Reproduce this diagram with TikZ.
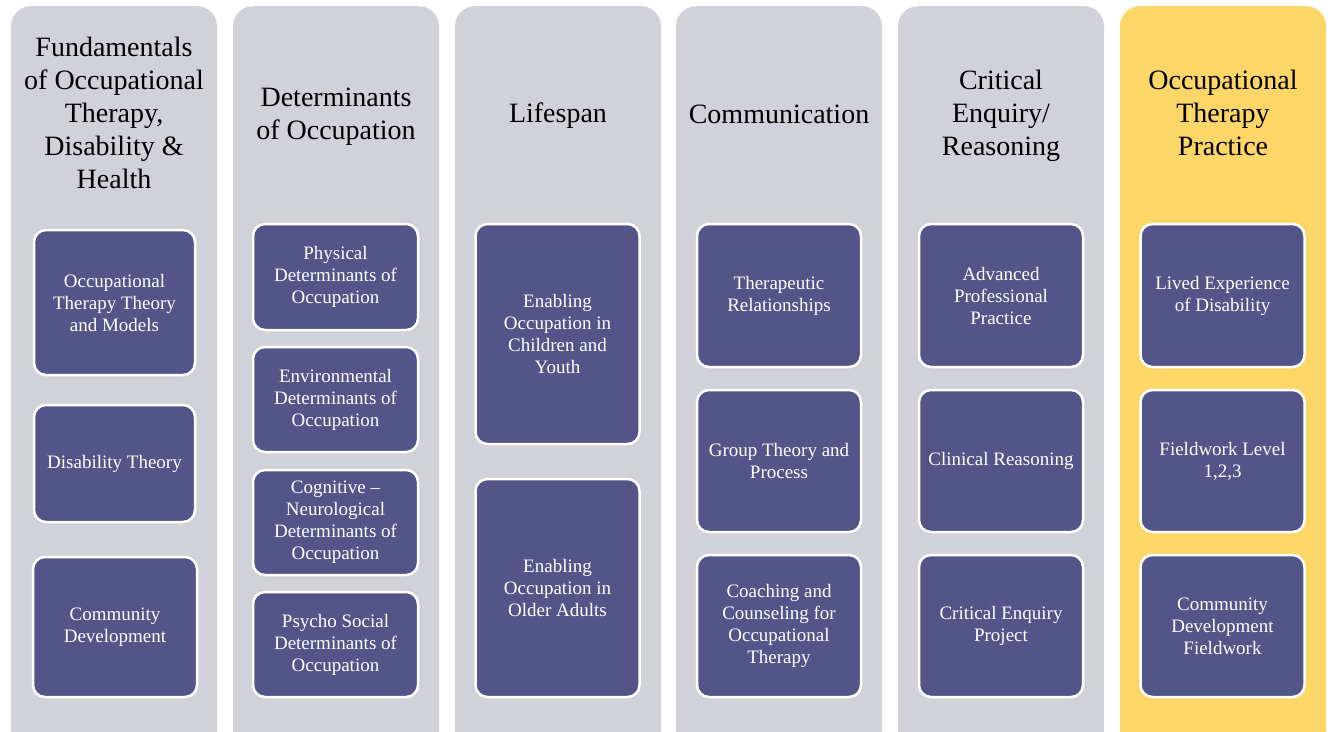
\documentclass[tikz,border=0pt]{standalone}
\usepackage{fontspec}
\setmainfont{Liberation Serif}
\usetikzlibrary{positioning}
\definecolor{colgrey}{RGB}{209, 209, 217}
\definecolor{colyellow}{RGB}{253, 214, 104}
\definecolor{itemcolor}{RGB}{83, 84, 136}
\tikzstyle{column} = [rectangle, rounded corners=20pt, minimum width=206pt, minimum height=760pt, anchor=north, fill=colgrey]
\tikzstyle{heading} = [align=center, text=black, font=\fontsize{28}{33}\selectfont]
\tikzstyle{item} = [rectangle, rounded corners=12pt, minimum width=164pt, align=center, draw=white, line width=2.5pt, fill=itemcolor, text=white, font=\fontsize{19}{22}\selectfont]

\begin{document}
\begin{tikzpicture}[x=1pt, y=-1pt]

\fill[white] (0,0) rectangle (1335,731);
\useasboundingbox (0,0) rectangle (1335,731);
\clip (0,0) rectangle (1335,731);

% Colonnes
\node (col1) [column] at (114,6) {};
\node (col2) [column] at (336,6) {};
\node (col3) [column] at (558,6) {};
\node (col4) [column] at (779,6) {};
\node (col5) [column] at (1001,6) {};
\node (col6) [column, fill=colyellow] at (1223,6) {};

% Titres
\node (head1) [heading] at (114,113) {Fundamentals\\of Occupational\\Therapy,\\Disability \&\\Health};
\node (head2) [heading] at (336,117) {Determinants\\of Occupation};
\node (head3) [heading] at (558,116) {Lifespan};
\node (head4) [heading] at (779,114) {Communication};
\node (head5) [heading] at (1001,116) {Critical\\Enquiry/\\Reasoning};
\node (head6) [heading] at (1223,113) {Occupational\\Therapy\\Practice};

% Fundamentals
\node (otmodels) [item, minimum width=161pt, minimum height=145pt] at (114.5,302.5) {Occupational\\Therapy Theory\\and Models};
\node (disability) [item, minimum width=161pt, minimum height=117pt] at (114.5,463.5) {Disability Theory};
\node (community) [item, minimum height=140pt] at (115,627) {Community\\Development};

% Determinants
\node (physical) [item, minimum width=165pt, minimum height=106pt] at (335.5,277) {Physical\\Determinants of\\Occupation};
\node (environ) [item, minimum width=165pt, minimum height=105pt] at (335.5,399.5) {Environmental\\Determinants of\\Occupation};
\node (cognitive) [item, minimum width=165pt, minimum height=105pt] at (335.5,522.5) {Cognitive --\\Neurological\\Determinants of\\Occupation};
\node (psycho) [item, minimum width=165pt, minimum height=105pt] at (335.5,644.5) {Psycho Social\\Determinants of\\Occupation};

% Lifespan
\node (children) [item, minimum height=220pt] at (557.5,334) {Enabling\\Occupation in\\Children and\\Youth};
\node (older) [item, minimum height=218pt] at (557.5,588) {Enabling\\Occupation in\\Older Adults};

% Communication
\node (therapeutic) [item, minimum height=143pt] at (779,295.5) {Therapeutic\\Relationships};
\node (group) [item, minimum height=142pt] at (779,461) {Group Theory and\\Process};
\node (coaching) [item, minimum height=142pt] at (779,626) {Coaching and\\Counseling for\\Occupational\\Therapy};

% Critical Enquiry
\node (advanced) [item, minimum height=143pt] at (1001,295.5) {Advanced\\Professional\\Practice};
\node (clinical) [item, minimum height=142pt] at (1001,461) {Clinical Reasoning};
\node (project) [item, minimum height=142pt] at (1001,626) {Critical Enquiry\\Project};

% Practice
\node (lived) [item, minimum height=143pt] at (1222.5,295.5) {Lived Experience\\of Disability};
\node (fieldwork) [item, minimum height=142pt] at (1222.5,461) {Fieldwork Level\\1,2,3};
\node (commfield) [item, minimum height=142pt] at (1222.5,626) {Community\\Development\\Fieldwork};

\end{tikzpicture}
\end{document}
